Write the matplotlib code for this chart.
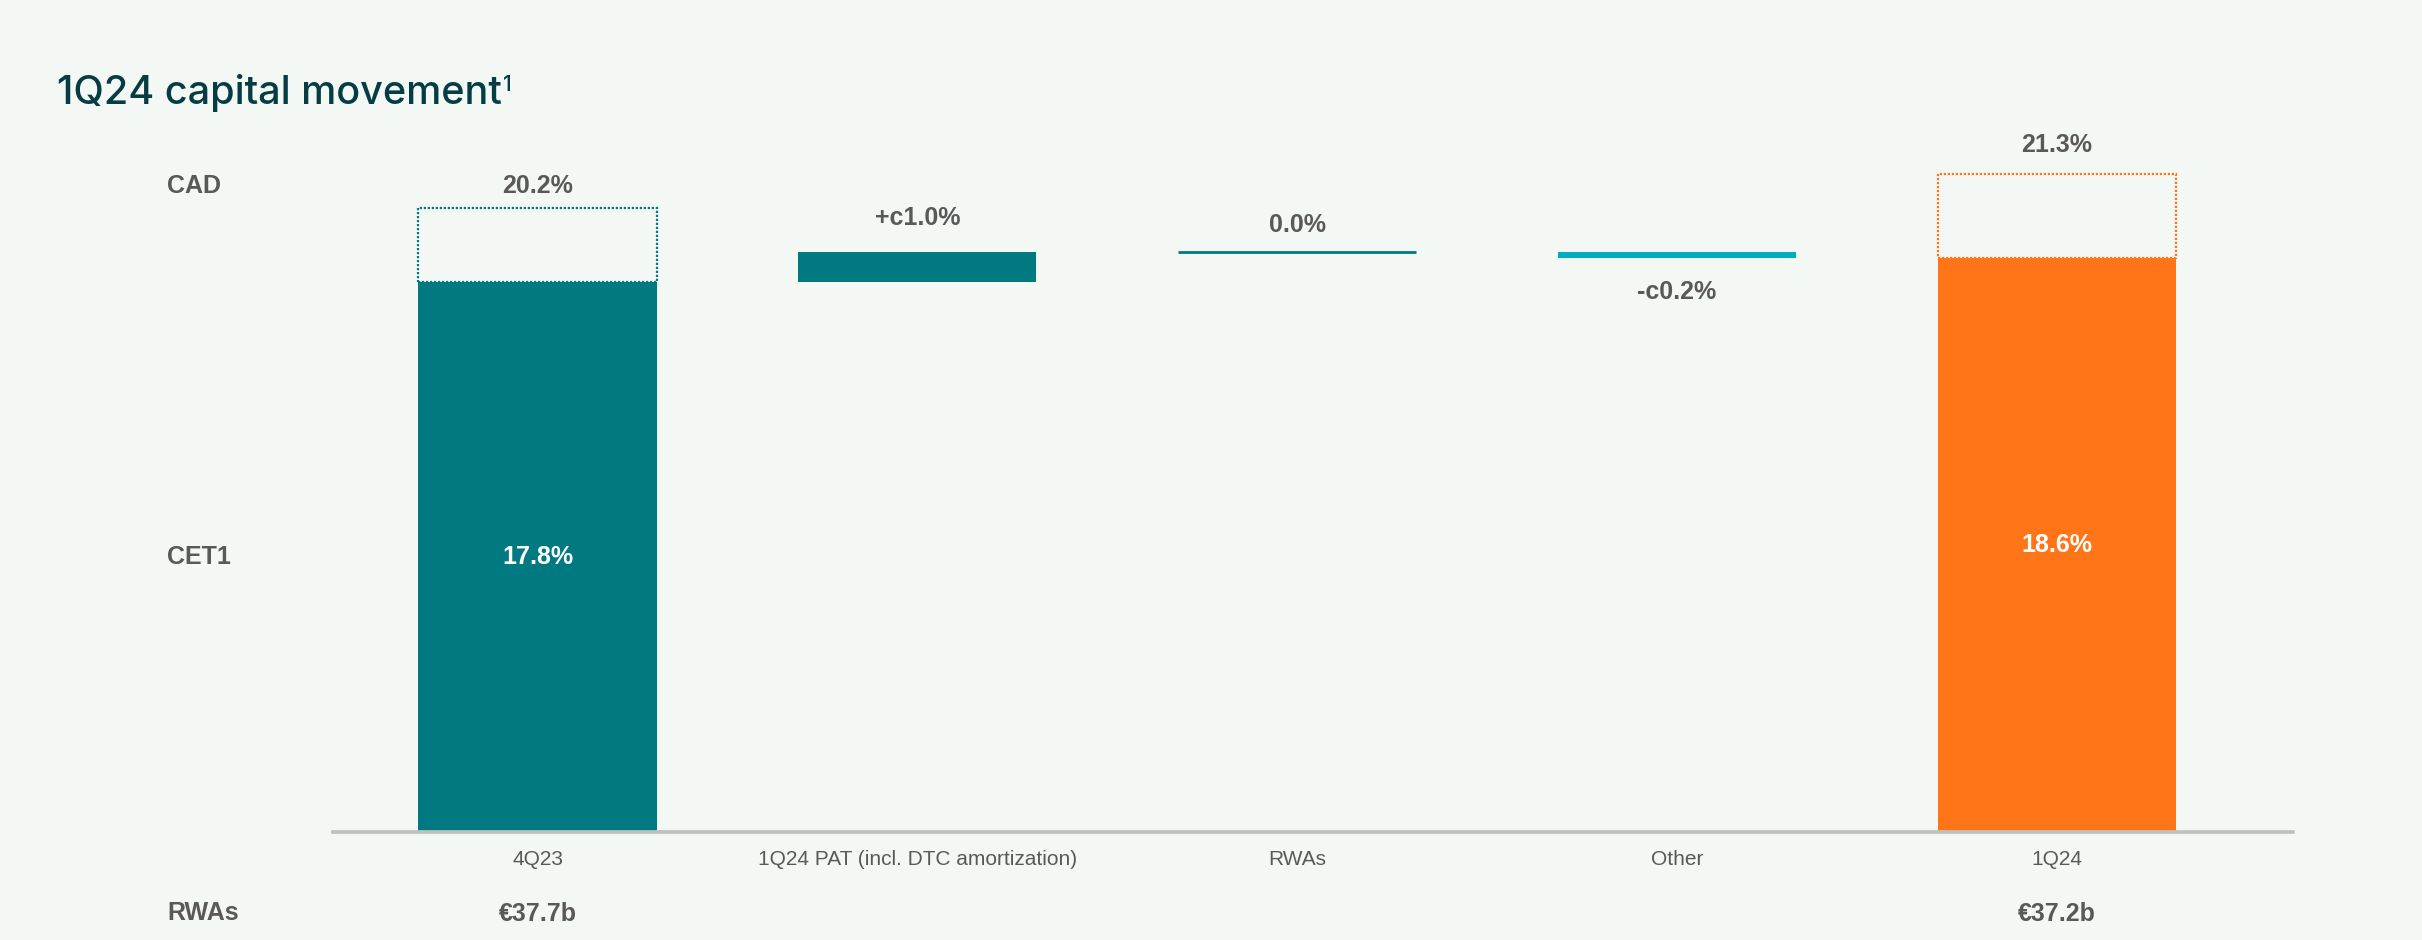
import matplotlib.pyplot as plt
from matplotlib import transforms

# data
categories = ["4Q23", "1Q24 PAT (incl. DTC amortization)", "RWAs", "Other", "1Q24"]
cet1 = [17.8, 18.6]          # opening / closing CET1 ratio (%)
cad = [20.2, 21.3]           # opening / closing CAD ratio (%)
changes = [1.0, 0.0, -0.2]   # walk items (%)
change_labels = ["+c1.0%", "0.0%", "-c0.2%"]
rwa_labels = ["€37.7b", "", "", "", "€37.2b"]

TEAL = "#007a80"
CYAN = "#00adbf"
ORANGE = "#ff7518"
GREY = "#595959"
BG = "#f4f8f5"
TITLE = "#063c43"
LBL = 18

plt.rcParams["font.family"] = ["Liberation Sans", "DejaVu Sans"]

fig = plt.figure(figsize=(24.22, 9.4), dpi=100, facecolor=BG)
ax = fig.add_axes([0.1375, 0.1149, 0.8093, 0.7882])
ax.set_facecolor(BG)

x = list(range(len(categories)))
w = 0.627
ends = [x[0], x[-1]]
end_colors = [TEAL, ORANGE]

# opening / closing CET1 bars and dotted CAD boxes
ax.bar(ends, cet1, width=w, color=end_colors, zorder=2)
for xi, c1, c2, col in zip(ends, cet1, cad, end_colors):
    ax.bar(xi, c2 - c1, bottom=c1, width=w, fill=False, edgecolor=col,
           linewidth=1.6, linestyle=(0, (1, 0.8)), zorder=2)

# waterfall steps
running = cet1[0]
step_colors = [TEAL, TEAL, CYAN]
for xi, ch, lab, col in zip(x[1:-1], changes, change_labels, step_colors):
    if ch == 0:
        ax.hlines(running, xi - w / 2, xi + w / 2, color=col, linewidth=2.0, zorder=2)
    else:
        ax.bar(xi, ch, bottom=running, width=w, color=col, zorder=2)
    top = max(running, running + ch)
    bot = min(running, running + ch)
    if ch >= 0:
        off = 19 if ch > 0 else 14
        ax.annotate(lab, (xi, top), xytext=(0, off), textcoords="offset points",
                    ha="center", va="baseline", fontsize=LBL, fontweight="bold", color=GREY)
    else:
        ax.annotate(lab, (xi, bot), xytext=(0, -16), textcoords="offset points",
                    ha="center", va="top", fontsize=LBL, fontweight="bold", color=GREY)
    running += ch

# labels on the end bars
for xi, c1, c2, off in zip(ends, cet1, cad, [11, 16]):
    ax.text(xi, c1 / 2, f"{c1:.1f}%", ha="center", va="center",
            fontsize=LBL, fontweight="bold", color="white", zorder=3)
    ax.annotate(f"{c2:.1f}%", (xi, c2), xytext=(0, off), textcoords="offset points",
                ha="center", va="baseline", fontsize=LBL, fontweight="bold", color=GREY)

ax.set_xlim(-0.5385, 4.6228)
ax.set_ylim(0, 24)
ax.set_xticks(x)
ax.set_xticklabels(categories, fontsize=15, color=GREY)
ax.tick_params(axis="x", length=0, pad=13)
ax.set_yticks([])
for s in ["top", "right", "left"]:
    ax.spines[s].set_visible(False)
ax.spines["bottom"].set_color("#bfc1be")
ax.spines["bottom"].set_linewidth(2.7)
ax.spines["bottom"].set_zorder(3)

# row labels on the left
left = transforms.blended_transform_factory(fig.transFigure, ax.transData)
ax.annotate("CAD", (0.069, cad[0]), xycoords=left, xytext=(0, 11), textcoords="offset points",
            ha="left", va="baseline", fontsize=LBL, fontweight="bold", color=GREY)
ax.text(0.069, cet1[0] / 2, "CET1", transform=left, ha="left", va="center",
        fontsize=LBL, fontweight="bold", color=GREY)

# RWAs row
bottom_row = transforms.blended_transform_factory(ax.transData, fig.transFigure)
fig.text(0.069, 0.0212, "RWAs", ha="left", va="baseline",
         fontsize=LBL, fontweight="bold", color=GREY)
for xi, lab in zip(x, rwa_labels):
    if lab:
        ax.text(xi, 0.0202, lab, transform=bottom_row, ha="center", va="baseline",
                fontsize=LBL, fontweight="bold", color=GREY)

# title with footnote marker
title = fig.text(0.0235, 1 - 104 / 940, "1Q24 capital movement", ha="left", va="baseline",
                 fontsize=28.5, fontweight="medium", color=TITLE, family=["Inter", "DejaVu Sans"])
ax.annotate("1", xy=(1, 1), xycoords=title, xytext=(1, -1), textcoords="offset points",
            ha="left", va="top", fontsize=15, fontweight="medium", color=TITLE,
            family=["Inter", "DejaVu Sans"], annotation_clip=False)

fig.savefig("out.png", dpi=100, facecolor=BG)
